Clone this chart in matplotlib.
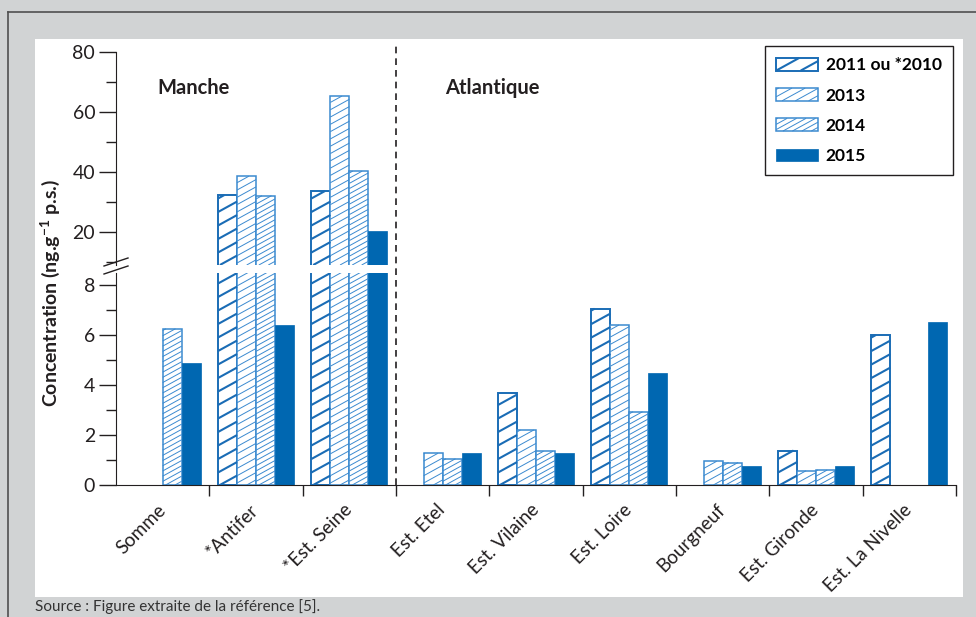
import numpy as np
import matplotlib
matplotlib.use("Agg")
import matplotlib.pyplot as plt
from matplotlib.patches import Patch, Rectangle
from matplotlib.lines import Line2D
from matplotlib.collections import LineCollection
from matplotlib.legend_handler import HandlerBase
import matplotlib.transforms as mtransforms

plt.rcParams['font.family'] = ['Lato', 'DejaVu Sans']

sites = ['Somme', '*Antifer', '*Est. Seine', 'Est. Etel', 'Est. Vilaine',
         'Est. Loire', 'Bourgneuf', 'Est. Gironde', 'Est. La Nivelle']
nan = np.nan
v2011 = [nan, 32.3, 33.7, nan, 3.7, 7.05, nan, 1.38, 6.0]
v2013 = [nan, 38.6, 65.3, 1.27, 2.2, 6.4, 0.95, 0.57, nan]
v2014 = [6.25, 32.1, 40.3, 1.05, 1.35, 2.93, 0.9, 0.6, nan]
v2015 = [4.9, 6.4, 20.3, 1.3, 1.27, 4.5, 0.76, 0.76, 6.52]
series_labels = ['2011 ou *2010', '2013', '2014', '2015']

W, H = 976, 617
fig = plt.figure(figsize=(W / 100, H / 100), dpi=100, facecolor='#d1d3d4')

def fx(px):
    return px / W

def fy(py):
    return 1 - py / H

# white panel and outer frame
fig.add_artist(Rectangle((fx(35), fy(597)), fx(963) - fx(35), fy(39) - fy(597),
                         transform=fig.transFigure, facecolor='white',
                         edgecolor='none', zorder=0))
fig.add_artist(Line2D([fx(8), fx(8)], [0, fy(12)], transform=fig.transFigure,
                      color='#505050', lw=1.2))
fig.add_artist(Line2D([fx(8), 1], [fy(12), fy(12)], transform=fig.transFigure,
                      color='#505050', lw=1.2))

left, right = fx(116), fx(956)
ax_up = fig.add_axes([left, fy(265), right - left, fy(52) - fy(265)])
ax_lo = fig.add_axes([left, fy(485), right - left, fy(272.5) - fy(485)])

blue = '#0067b1'
# hatch: spacing (vertical, px) and line width of the slanted lines
styles = [
    dict(fc='white', ec='#1a6cb5', lw=1.4, sp=13.5, hlw=1.5),
    dict(fc='white', ec='#3b8ad0', lw=1.1, sp=7.3, hlw=0.7),
    dict(fc='white', ec='#3b8ad0', lw=1.1, sp=5.2, hlw=0.7),
    dict(fc=blue, ec=blue, lw=0.5, sp=None, hlw=0),
]
slope = 0.55
series = [v2011, v2013, v2014, v2015]
bw = 0.203
x = np.arange(len(sites))


def hatch_segments(xl, xr, yb, yt, sp):
    # slanted lines inside a rectangle, all in pixel units
    segs = []
    c = yb - slope * (xr - xl) - sp * 0.3
    while c < yt:
        x0 = max(xl, xl + (yb - c) / slope)
        x1 = min(xr, xl + (yt - c) / slope)
        if x1 > x0:
            segs.append([(x0, c + slope * (x0 - xl)), (x1, c + slope * (x1 - xl))])
        c += sp
    return segs


ax_up.set_ylim(9, 80)
ax_lo.set_ylim(0, 8.5)
for ax in (ax_up, ax_lo):
    ax.set_xlim(-0.5, len(sites) - 0.5)

for ax in (ax_up, ax_lo):
    ax.patch.set_visible(False)
    y0, y1 = ax.get_ylim()
    inv = ax.transData.inverted()
    for i, vals in enumerate(series):
        st = styles[i]
        for xc, v in zip(x + (i - 1.5) * bw, vals):
            if np.isnan(v):
                continue
            ax.bar(xc, v, bw, facecolor=st['fc'], edgecolor=st['ec'],
                   linewidth=st['lw'], zorder=2)
            if st['sp'] is None or v <= y0:
                continue
            (pxl, pyb), (pxr, pyt) = ax.transData.transform(
                [(xc - bw / 2, max(0, y0)), (xc + bw / 2, min(v, y1))])
            segs = hatch_segments(pxl, pxr, pyb, pyt, st['sp'])
            segs = [inv.transform(s) for s in segs]
            ax.add_collection(LineCollection(segs, colors=st['ec'],
                                             linewidths=st['hlw'], zorder=3))
    for s in ('top', 'right'):
        ax.spines[s].set_visible(False)
    ax.spines['left'].set_color('#231f20')
    ax.tick_params(axis='y', direction='out', length=12, width=1,
                   labelsize=14, colors='#231f20', pad=3)
    ax.tick_params(axis='y', which='minor', direction='out', length=7, width=1,
                   colors='#231f20')

ax_up.set_yticks([20, 40, 60, 80])
ax_up.set_yticks([10, 30, 50, 70], minor=True)
ax_up.spines['bottom'].set_visible(False)
ax_up.set_xticks([])

ax_lo.set_yticks([0, 2, 4, 6, 8])
ax_lo.set_yticks([1, 3, 5, 7], minor=True)
ax_lo.spines['bottom'].set_color('#231f20')
ax_lo.set_xticks(x)
ax_lo.set_xticklabels(sites, rotation=45, ha='right', va='center',
                      rotation_mode='anchor', fontsize=13.5, color='#231f20')
ax_lo.set_xticks(np.arange(len(sites)) + 0.5, minor=True)
ax_lo.tick_params(axis='x', which='major', length=0, pad=16)
ax_lo.tick_params(axis='x', which='minor', length=8, width=1,
                  direction='out', colors='#231f20')

# axis break marks
for yy in (262, 270):
    fig.add_artist(Line2D([fx(104), fx(128)], [fy(yy + 4), fy(yy - 4)],
                          transform=fig.transFigure, color='#231f20', lw=1))

# dashed separator Manche / Atlantique
trans = mtransforms.blended_transform_factory(ax_lo.transData, fig.transFigure)
fig.add_artist(Line2D([2.5, 2.5], [fy(485), fy(44)], transform=trans,
                      color='#231f20', lw=1.2, ls=(0, (4, 3))))

fig.text(fx(157), fy(88), 'Manche', fontsize=14.5, fontweight='bold',
         va='center', color='#231f20')
fig.text(fx(445), fy(88), 'Atlantique', fontsize=14.5, fontweight='bold',
         va='center', color='#231f20')
fig.text(fx(50), fy(293), 'Concentration (ng.g$^{\\mathregular{-1}}$ p.s.)',
         rotation=90, fontsize=14, fontweight='bold', ha='center', va='center',
         color='#231f20')
fig.text(fx(35), fy(607), 'Source : Figure extraite de la référence [5].',
         fontsize=11, va='center', color='#333333')


class HatchHandler(HandlerBase):
    def __init__(self, st):
        super().__init__()
        self.st = st

    def create_artists(self, legend, orig_handle, xdescent, ydescent,
                       width, height, fontsize, trans):
        st = self.st
        xl, yb = -xdescent, -ydescent
        rect = Rectangle((xl, yb), width, height, facecolor=st['fc'],
                         edgecolor=st['ec'], linewidth=st['lw'], transform=trans)
        arts = [rect]
        if st['sp'] is not None:
            k = 0.72  # px -> pt
            segs = hatch_segments(xl, xl + width, yb, yb + height, st['sp'] * k)
            arts.append(LineCollection(segs, colors=st['ec'],
                                       linewidths=st['hlw'], transform=trans))
        return arts


handles = [Patch(facecolor=st['fc'], edgecolor=st['ec']) for st in styles]
hmap = {h: HatchHandler(st) for h, st in zip(handles, styles)}
leg = fig.legend(handles, series_labels, handler_map=hmap, loc='upper right',
                 bbox_to_anchor=(fx(953), fy(46)), borderaxespad=0,
                 fancybox=False, edgecolor='#231f20', framealpha=1,
                 prop={'weight': 'bold', 'size': 12.5}, handlelength=2.4,
                 handleheight=0.75, labelspacing=0.82, handletextpad=0.45,
                 borderpad=0.65)
leg.get_frame().set_linewidth(1)

fig.savefig('out.png', dpi=100, facecolor=fig.get_facecolor())
